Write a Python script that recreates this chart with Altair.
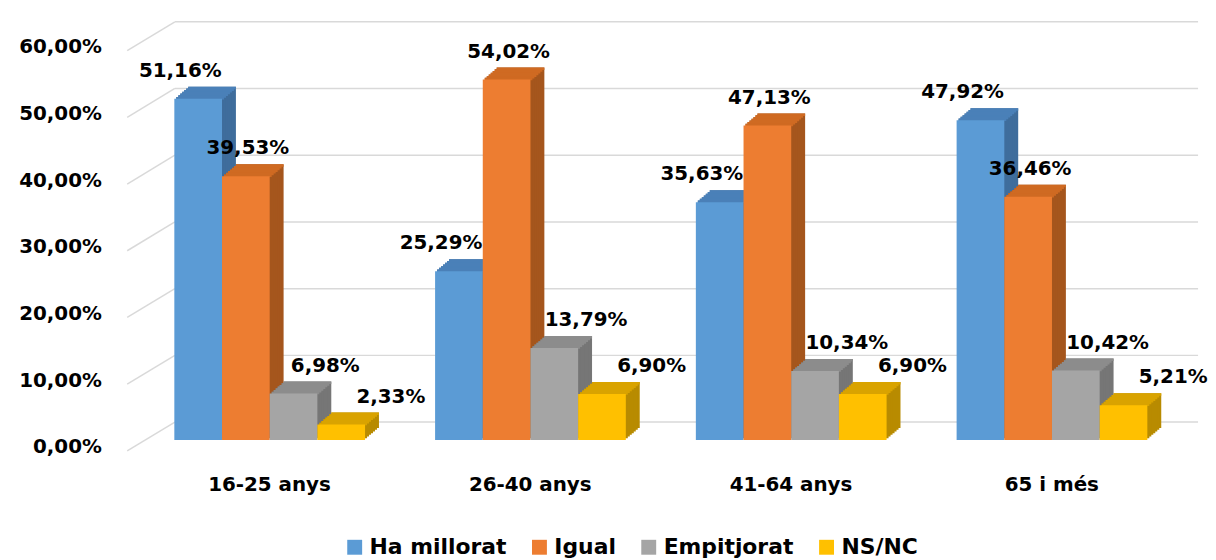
import altair as alt
import pandas as pd

groups = ["16-25 anys", "26-40 anys", "41-64 anys", "65 i més"]
series = ["Ha millorat", "Igual", "Empitjorat", "NS/NC"]
ha_millorat = [51.16, 25.29, 35.63, 47.92]
igual = [39.53, 54.02, 47.13, 36.46]
empitjorat = [6.98, 13.79, 10.34, 10.42]
nsnc = [2.33, 6.90, 6.90, 5.21]
grid_values = [0, 10, 20, 30, 40, 50, 60]

# styles
front_colors = ["#5b9bd5", "#ed7d31", "#a5a5a5", "#ffc000"]
top_colors = ["#4a80b8", "#cf6a22", "#8c8c8c", "#d9a300"]
side_colors = ["#3f6d9c", "#a5561d", "#767676", "#b88b00"]
label_dx = [-18, 2, 32, 50]

rows = []
for i, (s, vals) in enumerate(zip(series, [ha_millorat, igual, empitjorat, nsnc])):
    for g, v in zip(groups, vals):
        rows.append({"grup": g, "serie": s, "valor": v,
                     "front": front_colors[i], "top": top_colors[i], "side": side_colors[i]})
df = pd.DataFrame(rows)
grid_df = pd.DataFrame({"valor": grid_values})

FONT = "DejaVu Sans"
BAND = 192
DEPTH_X = 14
DEPTH_Y = 12
STEPS = 7
WALL = -18

x_axis = alt.Axis(labelAngle=0, labelFont=FONT, labelFontSize=20, labelFontWeight="bold",
                  labelColor="#000000", labelPadding=35, ticks=False, domain=False, grid=False)
y_axis = alt.Axis(values=grid_values,
                  labelExpr="replace(format(datum.value, '.2f'), '.', ',') + '%'",
                  labelFont=FONT, labelFontSize=20, labelFontWeight="bold",
                  labelColor="#000000", labelPadding=8, offset=30, labelOffset=7,
                  ticks=False, domain=False, grid=False)
x_scale = alt.Scale(domain=groups, paddingInner=0.27, paddingOuter=0.135)
y_scale = alt.Scale(domain=[0, 60])

x = alt.X("grup:N", sort=groups, title=None, scale=x_scale, axis=x_axis)
y = alt.Y("valor:Q", title=None, scale=y_scale, axis=y_axis)


def xo(shift):
    return alt.XOffset("serie:N", sort=series, scale=alt.Scale(domain=series, range=[shift, BAND + shift]))


layers = []

# back-wall grid lines and the floor-to-wall diagonals
layers.append(alt.Chart(grid_df).mark_rule(color="#d9d9d9", strokeWidth=1.5, yOffset=WALL).encode(
    y=y, x=alt.value(36), x2=alt.value(1066)))
layers.append(alt.Chart(grid_df).mark_rule(color="#d9d9d9", strokeWidth=1.5, yOffset=11, y2Offset=WALL).encode(
    y=y, y2=alt.Y2("valor:Q"), x=alt.value(-12), x2=alt.value(36)))

# side faces
for k in range(STEPS, 0, -1):
    dxk = DEPTH_X * k / STEPS
    dyk = DEPTH_Y * k / STEPS
    layers.append(alt.Chart(df).mark_bar(yOffset=-dyk, y2Offset=-dyk).encode(
        x=x, y=y, xOffset=xo(dxk), color=alt.Color("side:N", scale=None)))

# top faces (thin strips stacked diagonally)
for k in range(STEPS, 0, -1):
    dxk = DEPTH_X * k / STEPS
    dyk = DEPTH_Y * k / STEPS
    layers.append(alt.Chart(df).mark_bar(yOffset=-dyk, y2Offset=-dyk + 2.5).encode(
        x=x, y=y, y2=alt.Y2("valor:Q"), xOffset=xo(dxk),
        color=alt.Color("top:N", scale=None)))

# front faces
layers.append(alt.Chart(df).mark_bar().encode(
    x=x, y=y, xOffset=xo(0), color=alt.Color("front:N", scale=None)))

# value labels
for i, s in enumerate(series):
    layers.append(alt.Chart(df).transform_filter(alt.datum.serie == s).transform_calculate(
        lab="replace(format(datum.valor, '.2f'), '.', ',') + '%'"
    ).mark_text(dy=-28, dx=label_dx[i], font=FONT, fontSize=20, fontWeight="bold", color="#000000").encode(
        x=x, y=y, xOffset=xo(0), text="lab:N"))

# legend
legend_df = pd.DataFrame({"serie": series})
layers.append(alt.Chart(legend_df).mark_square(size=0, opacity=1).encode(
    color=alt.Color("serie:N", sort=series,
                    scale=alt.Scale(domain=series, range=front_colors),
                    legend=alt.Legend(orient="none", legendX=206, legendY=500, direction="horizontal",
                                      title=None, symbolType="square", symbolSize=225,
                                      symbolStrokeWidth=0, symbolOpacity=1,
                                      labelFont=FONT, labelFontSize=22, labelFontWeight="bold",
                                      labelColor="#000000", columnPadding=22, labelOffset=4))))

chart = alt.layer(*layers).resolve_scale(xOffset="independent", color="independent").properties(
    width=1050, height=403,
    padding={"left": 10, "top": 11, "right": 0, "bottom": 5},
    background="#ffffff",
).configure_view(strokeWidth=0)

chart.save("out.html", embed_options={"renderer": "svg", "actions": False})
